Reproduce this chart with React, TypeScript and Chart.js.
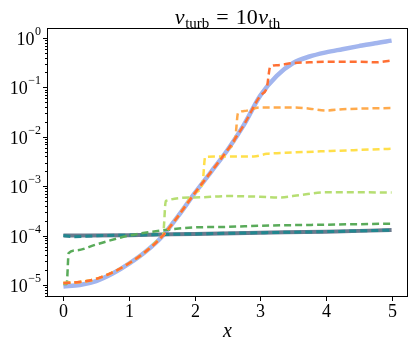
import React, { useEffect, useRef } from "react";
import { Chart, registerables } from "chart.js";

Chart.register(...registerables);

// ---- tick values ----
const xTickValues = [0, 1, 2, 3, 4, 5];
const yDecadeExponents = [-5, -4, -3, -2, -1, 0];
const xMin = -0.25;
const xMax = 5.25;
const yMin = 5.71e-6;
const yMax = 1.585;

// ---- series ----
const blueX = [0, 0.25, 0.5, 0.75, 1, 1.25, 1.5, 1.75, 2, 2.25, 2.5, 2.75, 3, 3.25, 3.5, 3.75, 4, 4.25, 4.5, 4.75, 5];
const blueY = [9.3e-6, 1.0e-5, 1.2e-5, 1.7e-5, 2.7e-5, 4.7e-5, 9.5e-5, 2.5e-4, 7.2e-4, 1.95e-3, 5.4e-3, 1.74e-2, 6.8e-2, 0.17, 0.31, 0.42, 0.51, 0.59, 0.68, 0.78, 0.88];

const tealSolidX = [0, 1, 2, 3, 4, 5];
const tealSolidY = [1.0e-4, 1.02e-4, 1.08e-4, 1.14e-4, 1.2e-4, 1.29e-4];

const tealDashX = [0, 0.15, 0.3, 0.6, 1, 2, 3, 4, 5];
const tealDashY = [1.0e-4, 9.5e-5, 9.6e-5, 1.0e-4, 1.02e-4, 1.08e-4, 1.14e-4, 1.2e-4, 1.29e-4];

const darkGreenX = [0, 0.05, 0.08, 0.2, 0.5, 1.0, 1.5, 2.0, 2.5, 3.0, 4.0, 5.0];
const darkGreenY = [1.05e-5, 1.05e-5, 4.4e-5, 5.0e-5, 6.6e-5, 1.0e-4, 1.27e-4, 1.46e-4, 1.5e-4, 1.58e-4, 1.66e-4, 1.74e-4];

const lightGreenX = [0, 0.25, 0.5, 0.75, 1, 1.25, 1.5, 1.52, 1.56, 2.0, 2.5, 3.0, 3.3, 3.6, 4.0, 4.5, 5];
const lightGreenY = [1.1e-5, 1.15e-5, 1.33e-5, 1.8e-5, 2.75e-5, 4.7e-5, 9.5e-5, 1.03e-4, 5.0e-4, 5.9e-4, 6.3e-4, 6.1e-4, 5.9e-4, 6.6e-4, 7.5e-4, 7.5e-4, 7.4e-4];

const yellowX = [0, 0.25, 0.5, 0.75, 1, 1.25, 1.5, 1.75, 2, 2.12, 2.16, 2.5, 2.9, 3.1, 3.5, 4, 4.5, 5];
const yellowY = [1.1e-5, 1.15e-5, 1.33e-5, 1.8e-5, 2.75e-5, 4.7e-5, 9.5e-5, 2.5e-4, 7.2e-4, 1.15e-3, 3.9e-3, 4.0e-3, 4.0e-3, 4.5e-3, 4.8e-3, 5.1e-3, 5.4e-3, 5.7e-3];

const orangeX = [0, 0.25, 0.5, 0.75, 1, 1.25, 1.5, 1.75, 2, 2.25, 2.5, 2.62, 2.66, 2.75, 3, 3.5, 3.75, 4, 4.25, 4.5, 5];
const orangeY = [1.1e-5, 1.15e-5, 1.33e-5, 1.8e-5, 2.75e-5, 4.7e-5, 9.5e-5, 2.5e-4, 7.2e-4, 1.95e-3, 5.4e-3, 1.0e-2, 3.0e-2, 3.3e-2, 3.9e-2, 3.9e-2, 3.7e-2, 3.4e-2, 3.6e-2, 3.7e-2, 3.8e-2];

const redX = [0, 0.25, 0.5, 0.75, 1, 1.25, 1.5, 1.75, 2, 2.25, 2.5, 2.75, 3, 3.1, 3.15, 3.25, 3.5, 3.75, 4, 4.25, 4.5, 4.75, 5];
const redY = [1.1e-5, 1.15e-5, 1.33e-5, 1.8e-5, 2.75e-5, 4.7e-5, 9.5e-5, 2.5e-4, 7.2e-4, 1.95e-3, 5.4e-3, 1.74e-2, 6.8e-2, 0.1, 0.26, 0.28, 0.31, 0.32, 0.33, 0.33, 0.33, 0.32, 0.35];

const SERIF = "'Liberation Serif', 'DejaVu Serif', serif";

function pts(xs: number[], ys: number[]) {
  return xs.map((x, i) => ({ x, y: ys[i] }));
}

const axesPlugin = {
  id: "mplAxes",
  afterDraw(chart: any) {
    const { ctx, chartArea: a, scales } = chart;
    const xs = scales.x;
    const ys = scales.y;
    ctx.save();
    ctx.strokeStyle = "#000";
    ctx.lineWidth = 1;
    ctx.strokeRect(a.left + 0.5, a.top + 0.5, a.right - a.left - 1, a.bottom - a.top - 1);

    ctx.fillStyle = "#000";
    ctx.font = `18px ${SERIF}`;
    ctx.textAlign = "center";
    ctx.textBaseline = "alphabetic";
    for (const t of xTickValues) {
      const px = Math.round(xs.getPixelForValue(t)) + 0.5;
      ctx.beginPath();
      ctx.moveTo(px, a.bottom);
      ctx.lineTo(px, a.bottom + 4);
      ctx.stroke();
      ctx.fillText(String(t), px, a.bottom + 20);
    }

    for (let d = -7; d <= 1; d++) {
      for (let k = 2; k <= 9; k++) {
        const v = k * Math.pow(10, d);
        if (v < yMin || v > yMax) continue;
        const py = Math.round(ys.getPixelForValue(v)) + 0.5;
        ctx.beginPath();
        ctx.moveTo(a.left - 2, py);
        ctx.lineTo(a.left, py);
        ctx.stroke();
      }
    }
    for (const e of yDecadeExponents) {
      const v = Math.pow(10, e);
      const py = Math.round(ys.getPixelForValue(v)) + 0.5;
      ctx.beginPath();
      ctx.moveTo(a.left - 4, py);
      ctx.lineTo(a.left, py);
      ctx.stroke();
      const sup = e < 0 ? "\u2212" + String(-e) : String(e);
      ctx.font = `12px ${SERIF}`;
      const supW = ctx.measureText(sup).width;
      ctx.font = `18px ${SERIF}`;
      const baseW = ctx.measureText("10").width;
      const right = a.left - 6;
      ctx.textAlign = "left";
      ctx.fillText("10", right - supW - baseW - 0.5, py + 6);
      ctx.font = `12px ${SERIF}`;
      ctx.fillText(sup, right - supW, py - 4);
    }

    ctx.font = `italic 20px ${SERIF}`;
    ctx.textAlign = "center";
    ctx.fillText("x", (a.left + a.right) / 2, a.bottom + 40);

    const parts = [
      { t: "v", f: `italic 22px ${SERIF}`, dy: 0, gap: 0.5 },
      { t: "turb", f: `15px ${SERIF}`, dy: 4, gap: 7 },
      { t: "=", f: `22px ${SERIF}`, dy: 0, gap: 7 },
      { t: "10", f: `22px ${SERIF}`, dy: 0, gap: 0.5 },
      { t: "v", f: `italic 22px ${SERIF}`, dy: 0, gap: 0.5 },
      { t: "th", f: `15px ${SERIF}`, dy: 4, gap: 0 },
    ];
    let total = 0;
    const widths: number[] = [];
    for (const p of parts) {
      ctx.font = p.f;
      const w = ctx.measureText(p.t).width;
      widths.push(w);
      total += w + p.gap;
    }
    let x = (a.left + a.right) / 2 - total / 2;
    ctx.textAlign = "left";
    parts.forEach((p, i) => {
      ctx.font = p.f;
      ctx.fillText(p.t, x, 24 + p.dy);
      x += widths[i] + p.gap;
    });
    ctx.restore();
  },
};

export default function App() {
  const ref = useRef<HTMLCanvasElement | null>(null);
  useEffect(() => {
    if (!ref.current) return;
    const dashed = [7, 4];
    const series = [
      { d: pts(blueX, blueY), c: "#a2b5ee", w: 4.5, dash: [] as number[] },
      { d: pts(tealSolidX, tealSolidY), c: "#6b7a8e", w: 4, dash: [] as number[] },
      { d: pts(tealDashX, tealDashY), c: "#21878f", w: 3, dash: dashed },
      { d: pts(darkGreenX, darkGreenY), c: "#5aab5a", w: 2.5, dash: dashed },
      { d: pts(lightGreenX, lightGreenY), c: "#b6de72", w: 2.5, dash: dashed },
      { d: pts(yellowX, yellowY), c: "#ffdf4a", w: 2.5, dash: dashed },
      { d: pts(orangeX, orangeY), c: "#ffaa4c", w: 2.5, dash: dashed },
      { d: pts(redX, redY), c: "#ff6f33", w: 2.5, dash: dashed },
    ];
    const n = series.length;
    const chart = new Chart(ref.current, {
      type: "line",
      data: {
        datasets: series.map((s, i) => ({
          data: s.d,
          borderColor: s.c,
          borderWidth: s.w,
          borderDash: s.dash,
          pointRadius: 0,
          fill: false,
          cubicInterpolationMode: "monotone" as const,
          order: n - i,
        })),
      },
      options: {
        responsive: false,
        animation: false,
        parsing: false as any,
        layout: { padding: { left: 47, right: 7, top: 28, bottom: 51 } },
        plugins: { legend: { display: false }, tooltip: { enabled: false }, title: { display: false } },
        scales: {
          x: { type: "linear", display: false, min: xMin, max: xMax },
          y: { type: "logarithmic", display: false, min: yMin, max: yMax },
        },
      },
      plugins: [axesPlugin],
    });
    return () => chart.destroy();
  }, []);
  return (
    <div style={{ position: "absolute", left: 0, top: 0, width: 415, height: 348, background: "#fff" }}>
      <canvas ref={ref} width={415} height={348} style={{ display: "block" }} />
    </div>
  );
}
